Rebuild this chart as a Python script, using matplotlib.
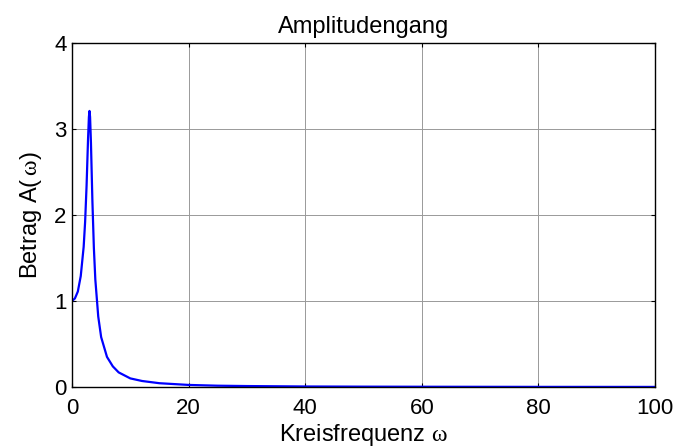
import numpy as np
import matplotlib
matplotlib.use('Agg')
import matplotlib.pyplot as plt

plt.rcParams['font.family'] = ['Liberation Sans', 'DejaVu Sans']
plt.rcParams['mathtext.fontset'] = 'custom'
plt.rcParams['mathtext.rm'] = 'Liberation Serif'

#------------------------------------------------------------------------------
# values

omega = [0, 0.5, 1, 1.5, 2, 2.25, 2.5, 2.75, 2.9, 3.0, 3.1, 3.25, 3.5, 3.75,
         4, 4.5, 5, 6, 7, 8, 10, 12, 15, 20, 25, 30, 40, 50, 60, 80, 100]
amplitude = [1.0, 1.03, 1.11, 1.29, 1.63, 1.92, 2.34, 2.88, 3.14, 3.21, 3.14,
             2.84, 2.16, 1.62, 1.25, 0.82, 0.58, 0.35, 0.24, 0.17, 0.10, 0.07,
             0.044, 0.024, 0.015, 0.011, 0.006, 0.004, 0.003, 0.0015, 0.001]

x_ticks = [0, 20, 40, 60, 80, 100]
y_ticks = [0, 1, 2, 3, 4]

#------------------------------------------------------------------------------

fig = plt.figure(figsize=(6.81, 4.47), dpi=100)
# axes box: x 72..655 px, y 43..387 px
ax = fig.add_axes([72/681, 1 - 387/447, 583/681, 344/447])

ax.plot(omega, amplitude, color='#0000ff', linewidth=1.6)

ax.set_xlim(0, 100)
ax.set_ylim(0, 4)
ax.set_xticks(x_ticks)
ax.set_yticks(y_ticks)
ax.grid(True, color='#999999', linewidth=0.7)
ax.tick_params(direction='in', top=True, right=True, length=3, width=0.8,
               labelsize=16)
ax.tick_params(axis='x', pad=8)
ax.tick_params(axis='y', pad=4)
for s in ax.spines.values():
    s.set_linewidth(1.0)

ax.set_title('Amplitudengang', fontsize=17, pad=7)
ax.set_xlabel(r'Kreisfrequenz $\mathrm{\omega}$', fontsize=17, labelpad=2)
ax.set_ylabel(r'Betrag A($\,\mathrm{\omega}$)', fontsize=17, labelpad=7)

fig.savefig('out.png', dpi=100)
